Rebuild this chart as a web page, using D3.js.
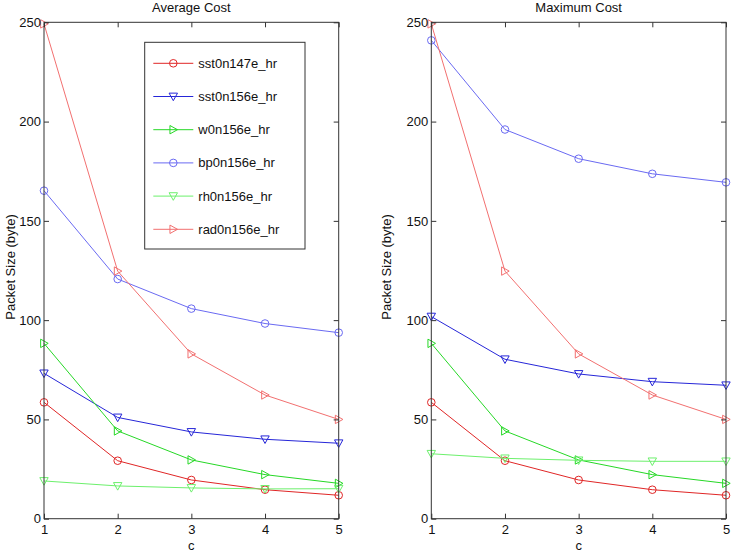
<!DOCTYPE html>
<html><head><meta charset="utf-8">
<script src="https://cdn.jsdelivr.net/npm/d3@7"></script>
<style>body{margin:0;background:#fff;} text{font-family:"Liberation Sans",Arial,sans-serif;}</style>
</head><body><svg id="c" width="733" height="551"></svg>
<script>
const cValues = [1, 2, 3, 4, 5];
const yTicks = [0, 50, 100, 150, 200, 250];
const seriesNames = ["sst0n147e_hr", "sst0n156e_hr", "w0n156e_hr", "bp0n156e_hr", "rh0n156e_hr", "rad0n156e_hr"];
const seriesColors = ["#e02626", "#2626d8", "#26d826", "#6a6af2", "#6cf06c", "#f27070"];
const seriesMarkers = ["circle", "down", "right", "circle", "down", "right"];
// Average cost
const avgSst147 = [58.6, 29.2, 19.5, 14.6, 11.8];
const avgSst156 = [73.2, 51.0, 43.7, 40.0, 38.0];
const avgW156 = [88.3, 44.2, 29.6, 22.2, 17.8];
const avgBp156 = [165.2, 120.7, 105.8, 98.3, 93.7];
const avgRh156 = [19.0, 16.5, 15.5, 15.0, 15.1];
const avgRad156 = [249.2, 124.7, 83.0, 62.3, 50.0];
// Maximum cost
const maxSst147 = [58.6, 29.2, 19.5, 14.6, 11.8];
const maxSst156 = [101.8, 80.3, 72.9, 69.0, 67.2];
const maxW156 = [88.3, 44.2, 29.6, 22.2, 17.8];
const maxBp156 = [240.9, 196.0, 181.3, 173.7, 169.4];
const maxRh156 = [32.7, 30.4, 29.4, 28.9, 28.9];
const maxRad156 = [249.2, 124.7, 83.0, 62.3, 50.0];

const panels = [
  {title: "Average Cost", left: 44, right: 338.7, data: [avgSst147, avgSst156, avgW156, avgBp156, avgRh156, avgRad156], legend: true, ylabX: 10},
  {title: "Maximum Cost", left: 431.3, right: 726, data: [maxSst147, maxSst156, maxW156, maxBp156, maxRh156, maxRad156], legend: false, ylabX: 386}
];
const plotTop = 22.3, plotBottom = 518.7;
const svg = d3.select("#c");
const axisColor = "#333";

function marker(g, type, x, y, color) {
  if (type === "circle") {
    g.append("circle").attr("cx", x).attr("cy", y).attr("r", 3.8)
      .attr("fill", "none").attr("stroke", color).attr("stroke-width", 1);
  } else if (type === "down") {
    const s = 4.2;
    g.append("path").attr("d", `M${x - s},${y - s * 0.8}L${x + s},${y - s * 0.8}L${x},${y + s}Z`)
      .attr("fill", "none").attr("stroke", color).attr("stroke-width", 1);
  } else {
    const s = 4.2;
    g.append("path").attr("d", `M${x - s * 0.8},${y - s}L${x + s},${y}L${x - s * 0.8},${y + s}Z`)
      .attr("fill", "none").attr("stroke", color).attr("stroke-width", 1);
  }
}

panels.forEach(p => {
  const x = d3.scaleLinear().domain([1, 5]).range([p.left, p.right]);
  const y = d3.scaleLinear().domain([0, 250]).range([plotBottom, plotTop]);
  const g = svg.append("g");

  p.data.forEach((vals, i) => {
    const line = d3.line().x((d, j) => x(cValues[j])).y(d => y(d));
    g.append("path").attr("d", line(vals)).attr("fill", "none")
      .attr("stroke", seriesColors[i]).attr("stroke-width", 1);
    vals.forEach((v, j) => marker(g, seriesMarkers[i], x(cValues[j]), y(v), seriesColors[i]));
  });

  g.append("rect").attr("x", p.left).attr("y", plotTop).attr("width", p.right - p.left).attr("height", plotBottom - plotTop)
    .attr("fill", "none").attr("stroke", axisColor).attr("stroke-width", 1);

  const xAx = d3.axisBottom(x).tickValues(cValues).tickSize(-5).tickPadding(6).tickFormat(d3.format("d"));
  const gx = g.append("g").attr("transform", `translate(0,${plotBottom})`).call(xAx);
  const xAxTop = d3.axisTop(x).tickValues(cValues).tickSize(-5).tickFormat("");
  const gxt = g.append("g").attr("transform", `translate(0,${plotTop})`).call(xAxTop);
  const yAx = d3.axisLeft(y).tickValues(yTicks).tickSize(-5).tickPadding(3).tickFormat(d3.format("d"));
  const gy = g.append("g").attr("transform", `translate(${p.left},0)`).call(yAx);
  const yAxR = d3.axisRight(y).tickValues(yTicks).tickSize(-5).tickFormat("");
  const gyr = g.append("g").attr("transform", `translate(${p.right},0)`).call(yAxR);
  [gx, gxt, gy, gyr].forEach(a => {
    a.select(".domain").remove();
    a.selectAll("line").attr("stroke", axisColor);
    a.selectAll("text").attr("fill", "#111").style("font-size", "13px").style("font-family", "'Liberation Sans',Arial,sans-serif");
  });

  svg.append("text").attr("x", (p.left + p.right) / 2).attr("y", 11.5).attr("text-anchor", "middle")
    .style("font-size", "13px").attr("fill", "#111").text(p.title);
  svg.append("text").attr("x", (p.left + p.right) / 2).attr("y", 549.5).attr("text-anchor", "middle")
    .style("font-size", "13px").attr("fill", "#111").text("c");
  svg.append("text").attr("transform", `translate(${p.ylabX},267) rotate(-90)`)
    .attr("text-anchor", "middle").attr("dy", "0.35em").style("font-size", "13px").attr("fill", "#111")
    .text("Packet Size (byte)");

  if (p.legend) {
    const lg = svg.append("g");
    lg.append("rect").attr("x", 144.7).attr("y", 42.3).attr("width", 160.3).attr("height", 206.7)
      .attr("fill", "#fff").attr("stroke", axisColor).attr("stroke-width", 1);
    seriesNames.forEach((n, i) => {
      const yy = 63.3 + i * 33.2;
      lg.append("line").attr("x1", 153.3).attr("x2", 193.3).attr("y1", yy).attr("y2", yy)
        .attr("stroke", seriesColors[i]).attr("stroke-width", 1);
      marker(lg, seriesMarkers[i], 173.3, yy, seriesColors[i]);
      lg.append("text").attr("x", 198.3).attr("y", yy).attr("dy", "0.35em")
        .style("font-size", "13px").attr("fill", "#111").text(n);
    });
  }
});
</script></body></html>
